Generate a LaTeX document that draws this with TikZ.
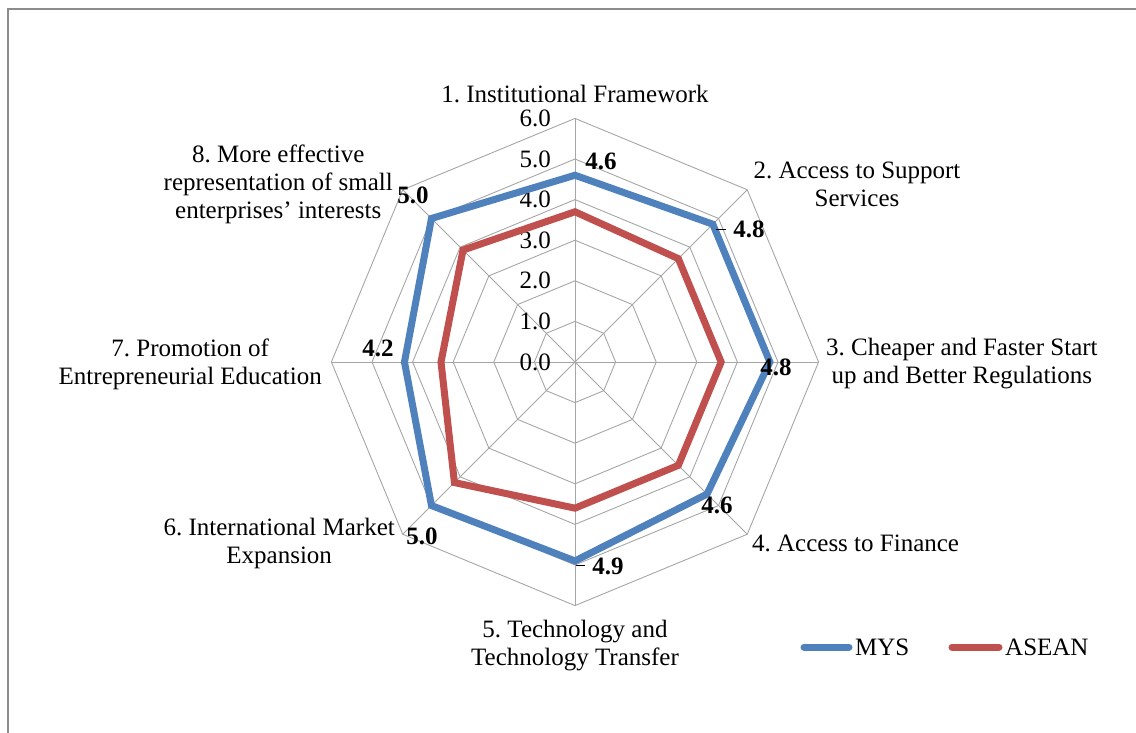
\documentclass[tikz,border=0pt]{standalone}
\usepackage{fontspec}
\setmainfont{Liberation Serif}
\frenchspacing
\definecolor{mysblue}{HTML}{4F81BD}
\definecolor{aseanred}{HTML}{C0504D}
\definecolor{gridgray}{HTML}{A6A6A6}
\definecolor{framegray}{HTML}{8C8C8C}
\begin{document}
\begin{tikzpicture}[x=1pt,y=1pt,
  lbl/.style={font=\fontsize{25}{28}\selectfont, align=center, inner sep=0pt},
  val/.style={font=\fontsize{25}{28}\selectfont\bfseries, inner sep=0pt},
  tick/.style={font=\fontsize{25}{28}\selectfont, inner sep=0pt, anchor=east},
  gridline/.style={draw=gridgray, line width=0.9pt},
  series/.style={line width=7pt, line join=miter},
  legline/.style={line width=7pt, line cap=round}]
\useasboundingbox (-575,-370) rectangle (561,362);
\def\s{40.6}
% frame
\draw[framegray, line width=2pt] (-567,-372) -- (-567,353) -- (563,353);
% grid
\foreach \k in {1,...,6}{
  \draw[gridline] (90:\k*\s) -- (45:\k*\s) -- (0:\k*\s) -- (-45:\k*\s) -- (-90:\k*\s) -- (-135:\k*\s) -- (180:\k*\s) -- (135:\k*\s) -- cycle;
}
\coordinate (c) at (0,0);
\foreach \a in {90,45,0,-45,-90,-135,180,135}{
  \draw[gridline] (c) -- (\a:6*\s);
}
% axis ticks
\foreach \k in {0,...,6}{
  \node[tick] (t\k) at (-24,\k*\s) {\k.0};
}
% data points
\coordinate (m1) at (90:4.6*\s);
\coordinate (m2) at (45:4.8*\s);
\coordinate (m3) at (0:4.8*\s);
\coordinate (m4) at (-45:4.6*\s);
\coordinate (m5) at (-90:4.9*\s);
\coordinate (m6) at (-135:5.0*\s);
\coordinate (m7) at (180:4.2*\s);
\coordinate (m8) at (135:5.0*\s);
\coordinate (a1) at (90:3.7*\s);
\coordinate (a2) at (45:3.6*\s);
\coordinate (a3) at (0:3.6*\s);
\coordinate (a4) at (-45:3.6*\s);
\coordinate (a5) at (-90:3.6*\s);
\coordinate (a6) at (-135:4.2*\s);
\coordinate (a7) at (180:3.3*\s);
\coordinate (a8) at (135:3.9*\s);
\draw[series, aseanred] (a1) -- (a2) -- (a3) -- (a4) -- (a5) -- (a6) -- (a7) -- (a8) -- cycle;
\draw[series, mysblue] (m1) -- (m2) -- (m3) -- (m4) -- (m5) -- (m6) -- (m7) -- (m8) -- cycle;
% data labels
\node[val] (v1) at (26,201) {4.6};
\node[val] (v2) at (174,133) {4.8};
\coordinate (d2a) at (141,133);
\coordinate (d2b) at (151,133);
\draw[black, line width=0.8pt] (d2a) -- (d2b);
\node[val] (v3) at (201,-5) {4.8};
\node[val] (v4) at (142,-143) {4.6};
\node[val] (v5) at (33,-204) {4.9};
\coordinate (d5a) at (1,-203);
\coordinate (d5b) at (10,-203);
\draw[black, line width=0.8pt] (d5a) -- (d5b);
\node[val] (v6) at (-153,-174) {5.0};
\node[val] (v7) at (-197,14) {4.2};
\node[val] (v8) at (-162,167) {5.0};
% category labels
\node[lbl] (l1) at (0,268) {1. Institutional Framework};
\node[lbl] (l2) at (282,178) {2. Access to Support\\Services};
\node[lbl, anchor=west] (l3) at (251,-2) {3. Cheaper and Faster Start\\up and Better Regulations};
\node[lbl, anchor=west] (l4) at (177,-181) {4. Access to Finance};
\node[lbl] (l5) at (0,-284) {5. Technology and\\Technology Transfer};
\node[lbl, anchor=east] (l6) at (-180,-181) {6. International Market\\Expansion};
\node[lbl, anchor=east] (l7) at (-253,-2) {7. Promotion of\\Entrepreneurial Education};
\node[lbl, anchor=east] (l8) at (-182,178) {8. More effective\\representation of small\\enterprises’ interests};
% legend
\coordinate (lb1) at (229,-285);
\coordinate (lb2) at (274,-285);
\draw[legline, mysblue] (lb1) -- (lb2);
\node[lbl, anchor=west] (lm) at (280,-285) {MYS};
\coordinate (lr1) at (377,-285);
\coordinate (lr2) at (424,-285);
\draw[legline, aseanred] (lr1) -- (lr2);
\node[lbl, anchor=west] (la) at (430,-285) {ASEAN};
\end{tikzpicture}
\end{document}
